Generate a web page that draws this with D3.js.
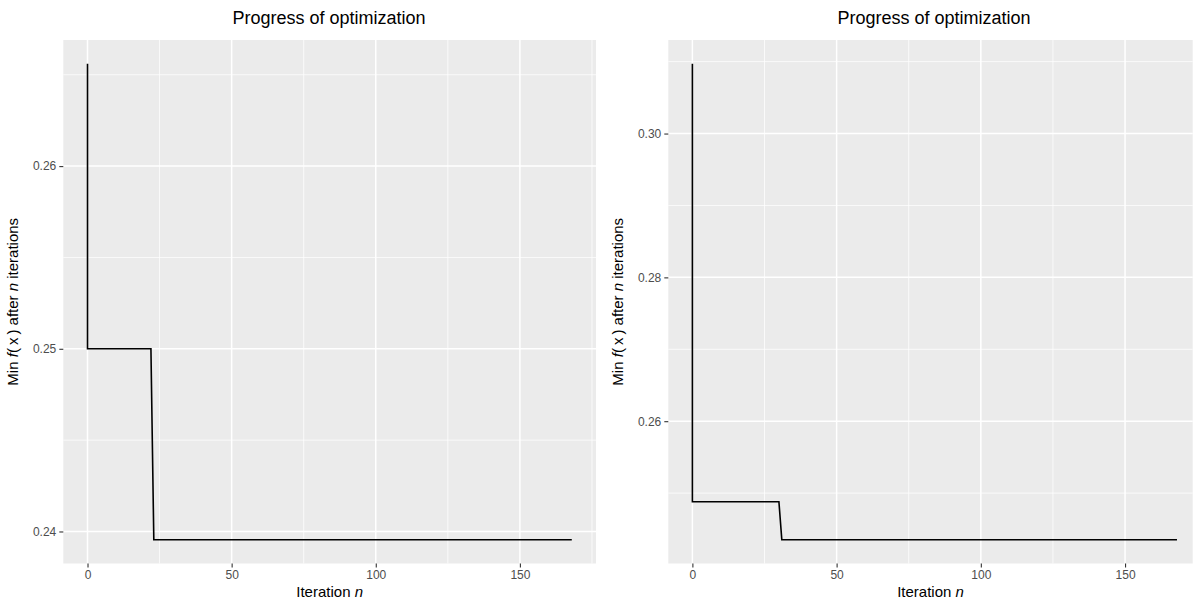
<!DOCTYPE html>
<html>
<head>
<meta charset="utf-8">
<script src="https://cdn.jsdelivr.net/npm/d3@7"></script>
<style>
  html, body { margin: 0; padding: 0; background: #ffffff; }
  svg { display: block; font-family: "Liberation Sans", Arial, Helvetica, sans-serif; }
</style>
</head>
<body>
<svg id="chart" width="1198" height="600"></svg>
<script>
// Running minimum of f(x) over the optimizer's iterations, two runs.
const runAIter = [0, 0, 22, 23, 168];
const runAMin  = [0.2656, 0.2500, 0.2500, 0.23955, 0.23955];
const runBIter = [0, 0, 30, 31, 168];
const runBMin  = [0.3097, 0.2488, 0.2488, 0.24352, 0.24352];

const xTicks  = [0, 50, 100, 150];
const yTicksA = [0.24, 0.25, 0.26];
const yTicksB = [0.26, 0.28, 0.30];

const chartTitle = "Progress of optimization";

const svg = d3.select("#chart");

function panel(opts) {
  const { left, right, top, bottom, xDomain, iter, vals, yTicks, yFmt, xMinor, titleX } = opts;
  const data = iter.map((n, i) => ({ n, v: vals[i] }));

  const x = d3.scaleLinear().domain(xDomain).range([left, right]);
  const ext = d3.extent(vals);
  const pad = (ext[1] - ext[0]) * 0.05;
  const y = d3.scaleLinear().domain([ext[0] - pad, ext[1] + pad]).range([bottom, top]);

  const g = svg.append("g");

  g.append("rect")
    .attr("x", left).attr("y", top)
    .attr("width", right - left).attr("height", bottom - top)
    .attr("fill", "#EBEBEB");

  // minor grid
  const yStep = yTicks[1] - yTicks[0];
  const yMinor = [];
  for (let i = -1; i < yTicks.length; i++) {
    const m = yTicks[0] + (i + 0.5) * yStep;
    if (m >= y.domain()[0] && m <= y.domain()[1]) yMinor.push(m);
  }
  g.selectAll(".ymin").data(yMinor).join("line")
    .attr("x1", left).attr("x2", right)
    .attr("y1", d => y(d)).attr("y2", d => y(d))
    .attr("stroke", "#ffffff").attr("stroke-width", 0.75);
  g.selectAll(".xmin").data(xMinor.filter(d => d >= xDomain[0] && d <= xDomain[1])).join("line")
    .attr("y1", top).attr("y2", bottom)
    .attr("x1", d => x(d)).attr("x2", d => x(d))
    .attr("stroke", "#ffffff").attr("stroke-width", 0.75);

  // major grid
  g.selectAll(".ymaj").data(yTicks).join("line")
    .attr("x1", left).attr("x2", right)
    .attr("y1", d => y(d)).attr("y2", d => y(d))
    .attr("stroke", "#ffffff").attr("stroke-width", 1.5);
  g.selectAll(".xmaj").data(xTicks).join("line")
    .attr("y1", top).attr("y2", bottom)
    .attr("x1", d => x(d)).attr("x2", d => x(d))
    .attr("stroke", "#ffffff").attr("stroke-width", 1.5);

  // step line
  g.append("path")
    .datum(data)
    .attr("fill", "none")
    .attr("stroke", "#000000")
    .attr("stroke-width", 1.6)
    .attr("stroke-linejoin", "miter")
    .attr("d", d3.line().x(d => x(d.n)).y(d => y(d.v)));

  // axes
  const xAxis = d3.axisBottom(x).tickValues(xTicks).tickSize(4).tickPadding(3).tickFormat(d3.format("d"));
  const gx = g.append("g").attr("transform", `translate(0,${bottom})`).call(xAxis);
  const yAxis = d3.axisLeft(y).tickValues(yTicks).tickSize(4).tickPadding(3).tickFormat(d3.format(yFmt));
  const gy = g.append("g").attr("transform", `translate(${left},0)`).call(yAxis);
  [gx, gy].forEach(a => {
    a.select(".domain").remove();
    a.selectAll(".tick line").attr("stroke", "#333333").attr("stroke-width", 1.1);
    a.selectAll(".tick text").attr("fill", "#4D4D4D").style("font-size", "12px")
      .style("font-family", "'Liberation Sans', Arial, sans-serif");
  });

  // titles
  const cx = (left + right) / 2;
  g.append("text")
    .attr("x", titleX).attr("y", 24)
    .attr("text-anchor", "middle")
    .style("font-size", "18px").attr("fill", "#000000")
    .text(chartTitle);

  const xt = g.append("text")
    .attr("x", cx).attr("y", 597)
    .attr("text-anchor", "middle")
    .style("font-size", "15px").attr("fill", "#000000");
  xt.append("tspan").text("Iteration ");
  xt.append("tspan").style("font-style", "italic").text("n");

  const ycx = left - 45;
  const yt = g.append("text")
    .attr("transform", `translate(${ycx},${(top + bottom) / 2}) rotate(-90)`)
    .attr("text-anchor", "middle")
    .style("font-size", "15px").attr("fill", "#000000");
  yt.append("tspan").text("Min ");
  yt.append("tspan").style("font-style", "italic").text("f");
  yt.append("tspan").text("(\u2009x\u2009)");
  yt.append("tspan").text(" after ");
  yt.append("tspan").style("font-style", "italic").text("n");
  yt.append("tspan").text(" iterations");
}

panel({
  left: 63.3, right: 596, top: 40, bottom: 563.5,
  xDomain: [-8.4, 176.4],
  iter: runAIter, vals: runAMin, yTicks: yTicksA, yFmt: ".2f",
  xMinor: [25, 75, 125, 175], titleX: 329
});

panel({
  left: 668.3, right: 1192.7, top: 40, bottom: 563.5,
  xDomain: [-8.35, 173.45],
  iter: runBIter, vals: runBMin, yTicks: yTicksB, yFmt: ".2f",
  xMinor: [25, 75, 125, 175], titleX: 934
});
</script>
</body>
</html>
